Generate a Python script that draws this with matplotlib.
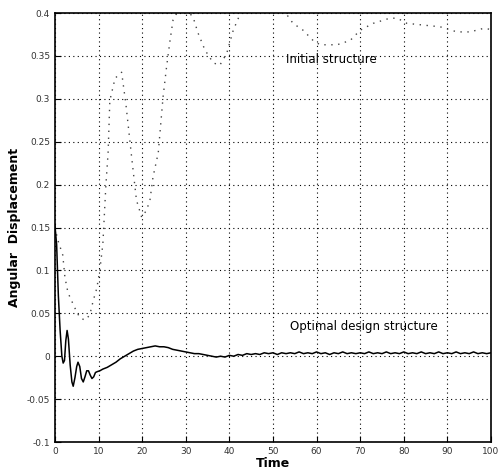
import matplotlib
matplotlib.use("Agg")
import matplotlib.pyplot as plt

# Initial structure (dotted curve)
t_init = [0, 0.7, 1.8, 2.3, 3, 4.6, 5.7, 6.9, 8, 8.8, 9.6, 10.3, 11, 11.7,
          12.2, 12.6, 13.8, 15.3, 16.3, 17.6, 18.7, 19.9, 21, 21.8, 22.5, 23.7,
          24.8, 25.6, 26.4, 27.1, 28.5, 30, 31.7, 32.8, 34.4, 36.3, 37.8, 39.4,
          40.9, 42.4, 45, 48, 51, 53.2, 54.6, 56.9, 59.2, 60.8, 64.7, 67.7, 70,
          73, 76.8, 78.5, 80.7, 84.4, 88.3, 92.2, 95.2, 98.2, 100]
y_init = [0.15, 0.135, 0.118, 0.092, 0.074, 0.056, 0.045, 0.042, 0.048, 0.065,
          0.079, 0.1, 0.131, 0.2, 0.237, 0.298, 0.324, 0.331, 0.293, 0.232,
          0.182, 0.162, 0.17, 0.182, 0.209, 0.237, 0.302, 0.337, 0.368, 0.392,
          0.405, 0.405, 0.395, 0.377, 0.357, 0.342, 0.339, 0.353, 0.38, 0.398,
          0.41, 0.415, 0.41, 0.398, 0.388, 0.38, 0.368, 0.363, 0.363, 0.368,
          0.38, 0.388, 0.394, 0.394, 0.388, 0.386, 0.384, 0.378, 0.378, 0.382,
          0.381]

# Optimal design structure (solid curve)
t_opt = [0, 0.4, 0.8, 1.2, 1.6, 1.9, 2.2, 2.5, 2.8, 3.1, 3.5, 3.9, 4.2, 4.6,
         5.0, 5.3, 5.7, 6.1, 6.5, 6.9, 7.3, 7.7, 8.1, 8.5, 8.9, 9.3, 9.7, 10.3,
         11, 12, 13, 14, 15, 16, 17, 18, 19, 20, 21, 22, 23, 24, 25, 26, 27,
         28, 29, 30, 31, 32, 33, 34, 35, 36, 37, 38, 39, 40, 41, 42, 43, 44,
         45, 46, 47, 48, 49, 50, 51, 52, 53, 54, 55, 56, 57, 58, 59, 60, 61,
         62, 63, 64, 65, 66, 67, 68, 69, 70, 71, 72, 73, 74, 75, 76, 77, 78,
         79, 80, 81, 82, 83, 84, 85, 86, 87, 88, 89, 90, 91, 92, 93, 94, 95,
         96, 97, 98, 99, 100]
y_opt = [0.153, 0.13, 0.07, 0.03, 0.0, -0.008, -0.005, 0.018, 0.03, 0.02,
         -0.01, -0.03, -0.035, -0.025, -0.012, -0.007, -0.012, -0.026, -0.03,
         -0.024, -0.017, -0.017, -0.022, -0.026, -0.024, -0.019, -0.018,
         -0.017, -0.015, -0.013, -0.010, -0.007, -0.003, 0.0, 0.003, 0.006,
         0.008, 0.009, 0.010, 0.011, 0.012, 0.011, 0.011, 0.010, 0.008, 0.007,
         0.006, 0.005, 0.004, 0.003, 0.003, 0.002, 0.001, 0.000, -0.001,
         0.000, -0.001, 0.001, 0.000, 0.002, 0.001, 0.003, 0.002, 0.003, 0.002,
         0.004, 0.003, 0.004, 0.002, 0.004, 0.003, 0.004, 0.003, 0.005, 0.003,
         0.004, 0.003, 0.005, 0.003, 0.004, 0.002, 0.004, 0.003, 0.005, 0.003,
         0.004, 0.003, 0.004, 0.003, 0.005, 0.003, 0.004, 0.003, 0.005, 0.003,
         0.004, 0.003, 0.005, 0.003, 0.004, 0.003, 0.005, 0.003, 0.004, 0.003,
         0.005, 0.003, 0.004, 0.003, 0.005, 0.003, 0.004, 0.003, 0.005, 0.003,
         0.004, 0.003, 0.004]

x_ticks = [0, 10, 20, 30, 40, 50, 60, 70, 80, 90, 100]
y_ticks = [-0.1, -0.05, 0, 0.05, 0.1, 0.15, 0.2, 0.25, 0.3, 0.35, 0.4]
y_labels = ["-0.1", "-0.05", "0", "0.05", "0.1", "0.15", "0.2", "0.25",
            "0.3", "0.35", "0.4"]

fig = plt.figure(figsize=(4.99, 4.74), dpi=100)
ax = fig.add_axes([0.110, 0.0675, 0.874, 0.905])

ax.plot(t_init, y_init, color="#444444", linestyle=(0, (1, 4)), linewidth=1.0)
ax.plot(t_opt, y_opt, color="black", linewidth=1.1)

ax.set_xlim(0, 100)
ax.set_ylim(-0.1, 0.4)
ax.set_xticks(x_ticks)
ax.set_yticks(y_ticks)
ax.set_yticklabels(y_labels)
ax.tick_params(direction="in", labelsize=6.5, labelcolor="#333333", length=4)
ax.grid(True, color="black", linestyle=(0, (1, 3)), linewidth=0.8)
for s in ax.spines.values():
    s.set_linewidth(1.2)

ax.text(53, 0.342, "Initial structure", fontsize=8.5)
ax.text(54, 0.03, "Optimal design structure", fontsize=8.5)

ax.set_xlabel("Time", fontsize=9, fontweight="bold", labelpad=1)
ax.set_ylabel("Angular  Displacement", fontsize=9, fontweight="bold", labelpad=4)

fig.savefig("out.png", dpi=100)
